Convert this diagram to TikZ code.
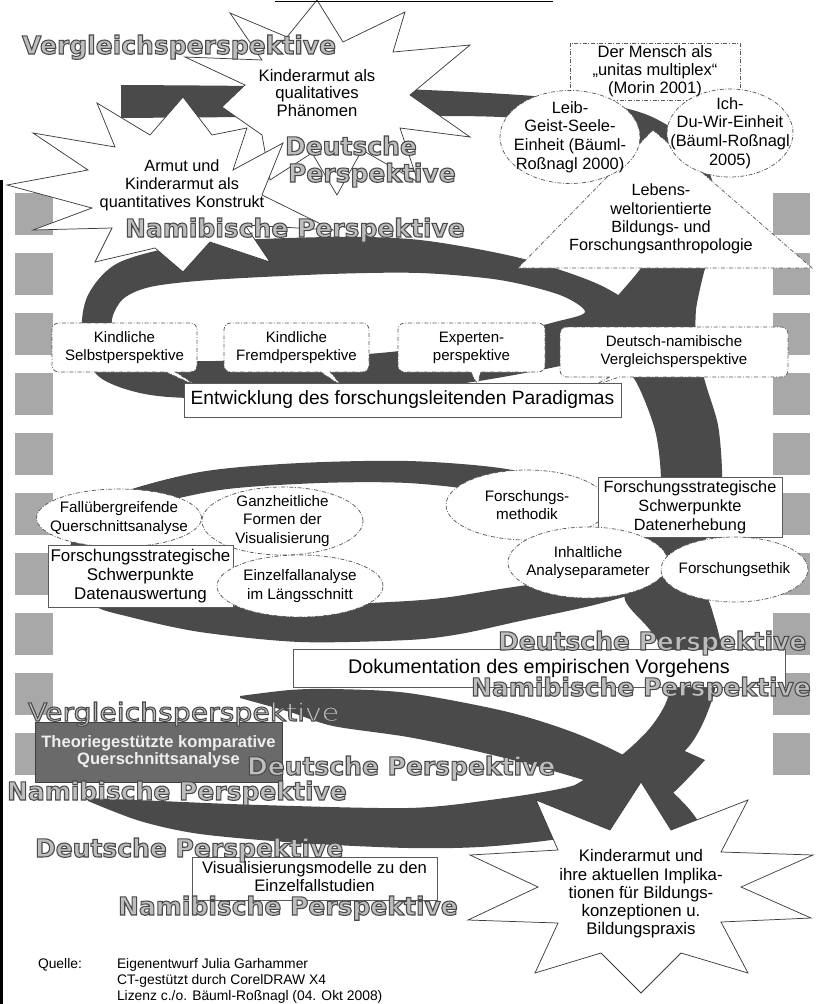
\documentclass[tikz,border=0pt]{standalone}
\usepackage{fontspec}
\setmainfont{Liberation Sans}
\newfontfamily\perspfont{DejaVu Sans}
\newfontfamily\perspwide[FakeStretch=1.13]{DejaVu Sans}
\usetikzlibrary{shapes.geometric,shapes.callouts}

\definecolor{bandc}{HTML}{4A4A4A}
\definecolor{sqc}{HTML}{A8A8A8}
\definecolor{edgec}{HTML}{5A5A5A}
\definecolor{starc}{HTML}{3C3C3C}
\definecolor{pfill}{HTML}{BDBDBD}
\definecolor{theoc}{HTML}{6A6A6A}
\definecolor{theotext}{HTML}{EEEEEE}

\newcommand\setfs[2]{\fontsize{#1}{#2}\selectfont}
\newcommand\px[1]{#1*0.75pt}
% grey letters with a dark outline (fill + stroke text rendering)
\newcommand\ptext[1]{{\color{pfill}\special{pdf:literal direct 2 Tr 0.8 w 0.29 0.29 0.29 RG}#1\special{pdf:literal direct 0 Tr}}}

\begin{document}
\begin{tikzpicture}[x=0.75pt,y=-0.75pt,
  every node/.style={inner sep=0pt,outer sep=0pt},
  dashdot/.style={dash pattern=on 3pt off 1.3pt on 0.6pt off 1.3pt},
  star/.style={draw=starc,line width=0.55pt,fill=white,line join=miter},
  oval/.style={ellipse,draw=edgec,line width=0.55pt,dashdot,fill=white},
  ovaltext/.style={align=center,font=\setfs{11.4}{13.8}},
  bubble/.style={rectangle callout,draw=edgec,line width=0.55pt,dashdot,fill=white,rounded corners=5pt,align=center,font=\setfs{11.3}{13.5}},
  plainbox/.style={rectangle,draw=edgec,line width=0.7pt,fill=white,align=center},
  lbl/.style={align=center},
  persp/.style={anchor=base west,font=\perspfont\bfseries\setfs{18.75}{20}},
  perspthin/.style={anchor=base west,font=\perspwide\setfs{18.75}{20}},
]
\useasboundingbox (0,0) rectangle (816,1004);
\fill[white] (0,0) rectangle (816,1004);
% dark rule along the left edge
\fill[black] (0,180) rectangle (2.5,1004);

% film strip squares on both sides
\foreach \k in {0,...,9}{
  \fill[sqc] (15,193+60*\k) rectangle (53,235+60*\k);
  \fill[sqc] (773,193+60*\k) rectangle (810,235+60*\k);
}

% ---- the spiral band ----
% first turn along the top, descending under the triangle
\fill[bandc] plot[smooth] coordinates {(121,85) (250,86) (400,89) (520,95) (600,103) (650,116) (690,142) (712,180) (716,225) (705,268) (692,302)}
  -- plot[smooth] coordinates {(612,302) (641,268) (662,232) (668,195) (655,162) (625,140) (580,125) (500,117) (400,116) (250,117) (121,118)} -- cycle;
% upper ring
\fill[bandc,even odd rule]
  plot[smooth cycle] coordinates {(200,243) (330,237) (420,240) (520,258) (600,285) (640,315) (620,348) (560,366) (450,385) (330,392) (200,398) (140,393) (97,375) (82,335) (88,295) (120,262)}
  plot[smooth cycle] coordinates {(210,280) (330,274) (420,273) (500,280) (560,295) (585,312) (555,322) (480,340) (380,353) (280,358) (190,361) (135,350) (112,325) (122,300) (150,287)};
% right descending part
\fill[bandc] plot[smooth] coordinates {(612,298) (598,330) (612,360) (635,380) (655,430) (661,480) (657,530) (632,570) (625,600) (650,630) (668,660) (668,697) (650,728) (618,758) (575,785)}
  -- plot[smooth] coordinates {(640,792) (690,745) (712,700) (721,650) (712,610) (700,575) (706,540) (720,500) (722,470) (718,425) (706,385) (697,350) (696,310) (705,268)} -- cycle;
% middle ring
\fill[bandc,even odd rule]
  plot[smooth cycle] coordinates {(110,497) (200,472) (300,463) (408,461) (500,468) (580,485) (650,510) (690,545) (675,578) (640,592) (590,606) (520,621) (460,634) (408,640) (300,642) (200,632) (130,617) (93,605) (70,575) (75,530)}
  plot[smooth cycle] coordinates {(135,510) (220,490) (320,483) (408,483) (490,492) (560,508) (615,530) (622,555) (600,572) (560,580) (500,589) (450,597) (408,601) (320,605) (233,606) (160,603) (115,590) (100,560) (108,530)};
% lower turn, back part running into the star
\fill[bandc] plot[smooth] coordinates {(240,696) (290,690) (333,689) (408,693) (508,712) (580,735) (640,765) (690,810) (725,865)}
  -- plot[smooth] coordinates {(680,875) (655,822) (610,790) (550,770) (480,752) (408,737) (333,726) (290,712) (240,698)} -- cycle;
% lower turn, front part
\fill[bandc] plot[smooth] coordinates {(88,798) (160,801) (260,805) (408,808) (490,800) (568,787) (620,767) (660,740)}
  -- plot[smooth] coordinates {(705,760) (665,800) (615,828) (551,840) (480,847) (408,848) (300,843) (200,834) (140,821) (88,801)} -- cycle;

% ---- top stars ----
\draw[star] (317,0) -- (343,42) -- (405,12) -- (393,52) -- (470,45) -- (410,95) -- (470,137) -- (400,128) -- (418,182) -- (362,150) -- (337,195) -- (312,153) -- (270,180) -- (262,135) -- (222,107) -- (245,85) -- (185,57) -- (262,60) -- (230,13) -- (287,37) -- cycle;
\node[lbl,font=\setfs{12.5}{13.1}] (qual) at (317,93) {Kinderarmut als\\qualitatives\\Phänomen};
\draw[star] (7,185) -- (88,170) -- (33,133) -- (115,147) -- (97,103) -- (150,135) -- (183,97) -- (212,135) -- (247,128) -- (233,170) -- (283,143) -- (262,195) -- (333,230) -- (245,225) -- (270,262) -- (210,242) -- (183,272) -- (155,248) -- (95,262) -- (112,228) -- (33,230) -- (92,208) -- cycle;
\node[lbl,font=\setfs{12.2}{13.5}] (quant) at (182,185) {Armut und\\Kinderarmut als\\quantitatives Konstrukt};
\draw[line width=1.1pt] (275,1.5) -- (553,1.5);

\node[persp] (v1) at (22,54) {\ptext{Vergleichsperspektive}};
\node[persp] (d1) at (285,155) {\ptext{Deutsche}};
\node[persp] (d1b) at (288,182) {\ptext{Perspektive}};
\node[persp] (n1) at (125,237) {\ptext{Namibische Perspektive}};

% ---- anthropology cluster ----
\node[rectangle,draw=edgec,line width=0.55pt,dashdot,fill=white,minimum width=\px{170},minimum height=\px{57}] (mensch) at (655,71.5) {};
\draw[draw=edgec,line width=0.55pt,dashdot,fill=white] (653,130) -- (812,268) -- (518,268) -- cycle;
\node[oval,minimum width=\px{140},minimum height=\px{93}] (leib) at (570,137) {};
\node[oval,minimum width=\px{126},minimum height=\px{88}] (ich) at (730,133) {};
\node[lbl,font=\setfs{12.4}{13.5}] (menschtext) at (mensch.center) {Der Mensch als\\„unitas multiplex“\\(Morin 2001)};
\node[lbl,font=\setfs{12.3}{13.9}] (leibtext) at (leib.center) {Leib-\\Geist-Seele-\\Einheit (Bäuml-\\Roßnagl 2000)};
\node[lbl,font=\setfs{12.3}{13.9}] (ichtext) at (ich.center) {Ich-\\Du-Wir-Einheit\\(Bäuml-Roßnagl\\2005)};
\node[lbl,font=\setfs{12.2}{13.7}] (anthro) at (661,219) {Lebens-\\weltorientierte\\Bildungs- und\\Forschungsanthropologie};

% ---- perspectives feeding the paradigm ----
\node[bubble,minimum width=\px{145},minimum height=\px{49},callout absolute pointer={(197,386)}] (selbst) at (124.5,347.5) {Kindliche\\Selbstperspektive};
\node[bubble,minimum width=\px{145},minimum height=\px{49},callout absolute pointer={(342,386)}] (fremd) at (296.5,347.5) {Kindliche\\Fremdperspektive};
\node[bubble,minimum width=\px{147},minimum height=\px{49},callout absolute pointer={(478,386)}] (experten) at (471.5,347.5) {Experten-\\perspektive};
\node[bubble,minimum width=\px{228},minimum height=\px{50},callout absolute pointer={(593,386)}] (vergleich) at (674,352) {Deutsch-namibische\\Vergleichsperspektive};
\node[plainbox,minimum width=\px{437},minimum height=\px{34},font=\setfs{14.4}{16}] (paradigma) at (402.5,400) {Entwicklung des forschungsleitenden Paradigmas};

% ---- evaluation cluster (left) ----
\node[oval,minimum width=\px{165},minimum height=\px{58}] (fall) at (119,518) {};
\node[ovaltext] (falltext) at (fall.center) {Fallübergreifende\\Querschnittsanalyse};
\node[oval,minimum width=\px{161},minimum height=\px{68}] (ganz) at (282.5,521) {};
\node[ovaltext] (ganztext) at (ganz.center) {Ganzheitliche\\Formen der\\Visualisierung};
\node[plainbox,minimum width=\px{185},minimum height=\px{62},font=\setfs{12.7}{14.2}] (auswertung) at (140.5,576) {Forschungsstrategische\\Schwerpunkte\\Datenauswertung};
\node[oval,minimum width=\px{166},minimum height=\px{62}] (einzel) at (300,586) {};
\node[ovaltext] (einzeltext) at (einzel.center) {Einzelfallanalyse\\im Längsschnitt};

% ---- data collection cluster (right) ----
\node[oval,minimum width=\px{162},minimum height=\px{70}] (methodik) at (527,505) {};
\node[ovaltext] (methodiktext) at (methodik.center) {Forschungs-\\methodik};
\node[plainbox,minimum width=\px{184},minimum height=\px{60},font=\setfs{12.2}{14.2}] (erhebung) at (690,507) {Forschungsstrategische\\Schwerpunkte\\Datenerhebung};
\node[oval,minimum width=\px{160},minimum height=\px{71}] (inhalt) at (588,562.5) {};
\node[ovaltext] (inhalttext) at (inhalt.center) {Inhaltliche\\Analyseparameter};
\node[oval,minimum width=\px{147},minimum height=\px{65}] (ethik) at (734.5,569.5) {};
\node[ovaltext] (ethiktext) at (ethik.center) {Forschungsethik};

% ---- documentation ----
\node[plainbox,minimum width=\px{492},minimum height=\px{38},font=\setfs{14.8}{16}] (doku) at (539,668) {Dokumentation des empirischen Vorgehens};
\node[persp] (d2) at (498,650) {\ptext{Deutsche Perspektive}};
\node[persp] (n2) at (471,696) {\ptext{Namibische Perspektive}};

% ---- comparative analysis ----
\node[rectangle,draw=black!75,line width=0.7pt,fill=theoc,text=theotext,align=center,minimum width=\px{247},minimum height=\px{60},font=\bfseries\setfs{12.4}{12.8}] (theorie) at (158.5,752) {Theoriegestützte komparative\\Querschnittsanalyse};
\node[perspthin] (v2) at (28,721) {\ptext{Vergleichsperspektive}};
\node[persp] (d3) at (247,775) {\ptext{Deutsche Perspektive}};
\node[persp] (n3) at (7,800) {\ptext{Namibische Perspektive}};

% ---- visualisation models ----
\node[rectangle,draw=edgec,line width=0.7pt,fill=white,minimum width=\px{245},minimum height=\px{43}] (modelle) at (314.5,878.5) {};
\node[lbl,font=\setfs{12.5}{12.9}] (modelletext) at (314.5,876.5) {Visualisierungsmodelle zu den\\Einzelfallstudien};
\node[persp] (d4) at (35,857) {\ptext{Deutsche Perspektive}};
\node[persp] (n4) at (118,915) {\ptext{Namibische Perspektive}};

% ---- bottom star ----
\draw[star] (641,782) -- (671,830) -- (748,800) -- (721,852) -- (813,855) -- (741,887) -- (811,918) -- (721,922) -- (748,973) -- (681,953) -- (641,993) -- (601,953) -- (535,973) -- (558,923) -- (468,920) -- (538,887) -- (470,855) -- (558,850) -- (536,800) -- (610,830) -- cycle;
\node[lbl,font=\setfs{12.6}{13.7}] (praxis) at (641,894) {Kinderarmut und\\ihre aktuellen Implika-\\tionen für Bildungs-\\konzeptionen u.\\Bildungspraxis};

% ---- source note ----
\node[anchor=base west,font=\setfs{10.4}{12}] (quelle) at (38,968) {Quelle:};
\node[anchor=north west,align=left,font=\setfs{10.4}{12}] (autor) at (117,958) {Eigenentwurf Julia Garhammer\\CT-gestützt durch CorelDRAW X4\\Lizenz c./o. Bäuml-Roßnagl (04. Okt 2008)};
\end{tikzpicture}
\end{document}
